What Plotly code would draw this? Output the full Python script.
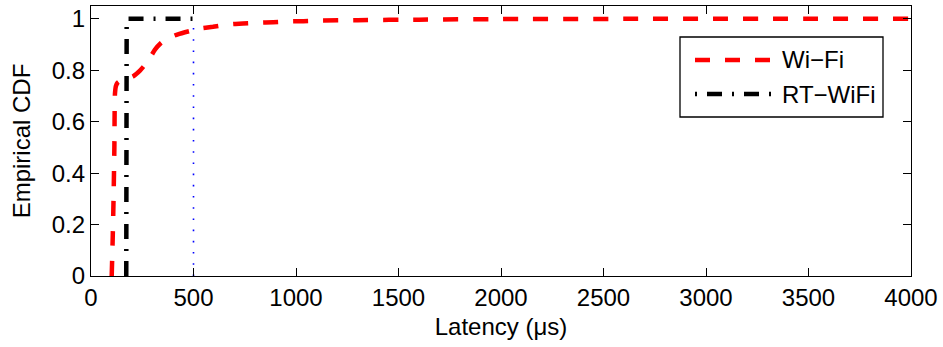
import plotly.graph_objects as go

# Wi-Fi empirical CDF (latency in microseconds)
wifi_latency = [101, 106, 110, 114, 117, 122, 130, 145, 170, 206, 240, 278, 312, 340, 371,
                424, 498, 522, 595, 668, 741, 815, 888, 963, 1036, 1110, 1300, 1600, 2000, 2600, 4000]
wifi_cdf = [0.0, 0.15, 0.30, 0.50, 0.71, 0.74, 0.752, 0.760, 0.766, 0.777, 0.80, 0.836, 0.88, 0.905, 0.923,
            0.94, 0.956, 0.961, 0.969, 0.978, 0.982, 0.985, 0.987, 0.990, 0.991, 0.993, 0.995, 0.997, 0.999, 1.0, 1.0]

# RT-WiFi empirical CDF
rtwifi_latency = [172, 172, 174, 495]
rtwifi_cdf = [0.0, 0.985, 1.0, 1.0]

# deadline marker
deadline_x = [500, 500]
deadline_y = [0, 1]

series_names = ["Wi\u2212Fi", "RT\u2212WiFi"]
x_ticks = [0, 500, 1000, 1500, 2000, 2500, 3000, 3500, 4000]
y_ticks = [0, 0.2, 0.4, 0.6, 0.8, 1]
y_tick_labels = ["0", "0.2", "0.4", "0.6", "0.8", "1"]

FONT = "Liberation Sans, Arial, Helvetica, sans-serif"
FS = 24
RED_DASH = "15px,15px"
BLACK_DASH = "15px,10px,2px,10px"

# plot area in pixels (for legend placement)
L, R, T, B = 91, 911, 6, 276
def px(x):
    return (x - L) / (R - L)
def py(y):
    return (B - y) / (B - T)

fig = go.Figure()
fig.add_trace(go.Scatter(x=deadline_x, y=deadline_y, mode="lines", showlegend=False,
                         line=dict(color="#0000ff", width=1.6, dash="1.6px,9.6px"), hoverinfo="skip"))
fig.add_trace(go.Scatter(x=wifi_latency, y=wifi_cdf, mode="lines", name=series_names[0], showlegend=False,
                         line=dict(color="#ff0000", width=4.5, dash=RED_DASH, shape="spline", smoothing=0.6)))
fig.add_trace(go.Scatter(x=rtwifi_latency, y=rtwifi_cdf, mode="lines", name=series_names[1], showlegend=False,
                         line=dict(color="#000000", width=4.5, dash=BLACK_DASH)))

axis_common = dict(showline=True, linecolor="black", linewidth=1.3, mirror="ticks",
                   ticks="inside", ticklen=8, tickwidth=1.3, tickcolor="black",
                   showgrid=False, zeroline=False,
                   tickfont=dict(family=FONT, size=FS, color="black"))

# legend box drawn by hand (long line samples as in the original)
shapes = [
    dict(type="rect", xref="paper", yref="paper", x0=px(680), x1=px(883), y0=py(117), y1=py(37),
         line=dict(color="black", width=1.3), fillcolor="white", layer="above"),
    dict(type="line", xref="paper", yref="paper", x0=px(695), x1=px(772), y0=py(60), y1=py(60),
         line=dict(color="#ff0000", width=4.5, dash=RED_DASH), layer="above"),
    dict(type="line", xref="paper", yref="paper", x0=px(695), x1=px(772), y0=py(94), y1=py(94),
         line=dict(color="#000000", width=4.5, dash="2px,10px,15px,10px"), layer="above"),
]
annotations = [
    dict(xref="paper", yref="paper", x=px(780), y=py(60), xanchor="left", yanchor="middle",
         text=series_names[0], showarrow=False, font=dict(family=FONT, size=FS, color="black")),
    dict(xref="paper", yref="paper", x=px(780), y=py(94), xanchor="left", yanchor="middle",
         text=series_names[1], showarrow=False, font=dict(family=FONT, size=FS, color="black")),
]

fig.update_layout(
    width=943, height=347,
    margin=dict(l=L, r=943 - R, t=T, b=347 - B),
    plot_bgcolor="white", paper_bgcolor="white",
    font=dict(family=FONT, size=FS, color="black"),
    showlegend=False,
    xaxis=dict(range=[0, 4000], tickvals=x_ticks,
               title=dict(text="Latency (\u03bcs)", font=dict(family=FONT, size=FS), standoff=8),
               **axis_common),
    yaxis=dict(range=[0, 1.05], tickvals=y_ticks, ticktext=y_tick_labels,
               title=dict(text="Empirical CDF", font=dict(family=FONT, size=FS), standoff=14),
               **axis_common),
    shapes=shapes,
    annotations=annotations,
)

fig.write_html("out.html")
